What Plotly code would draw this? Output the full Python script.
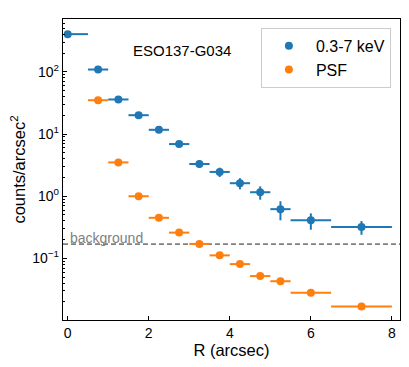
import math

import plotly.graph_objects as go

# radial bins (arcsec)
r_mid = [0.0, 0.75, 1.25, 1.75, 2.25, 2.75, 3.25, 3.75, 4.25, 4.75, 5.25, 6.0, 7.25]
r_err_plus = [0.5, 0.25, 0.25, 0.25, 0.25, 0.25, 0.25, 0.25, 0.25, 0.25, 0.25, 0.5, 0.75]
r_err_minus = [0.0, 0.25, 0.25, 0.25, 0.25, 0.25, 0.25, 0.25, 0.25, 0.25, 0.25, 0.5, 0.75]

# 0.3-7 keV surface brightness
src_counts = [404, 109, 36, 20.1, 11.7, 6.9, 3.3, 2.46, 1.62, 1.16, 0.62, 0.41, 0.32]
src_err = [12, 5, 2.2, 1.4, 0.9, 0.6, 0.45, 0.42, 0.33, 0.28, 0.21, 0.12, 0.08]

# PSF profile
psf_r = r_mid[1:]
psf_err_plus = r_err_plus[1:]
psf_err_minus = r_err_minus[1:]
psf_counts = [35, 3.5, 1.0, 0.45, 0.26, 0.171, 0.112, 0.081, 0.052, 0.043, 0.028, 0.0168]

background = 0.17

y_tick_vals = [0.1, 1, 10, 100]
y_tick_text = ['10<sup>\u22121</sup>', '10<sup>0</sup>', '10<sup>1</sup>', '10<sup>2</sup>']
y_minor_vals = [m * 10 ** e for e in (-2, -1, 0, 1, 2) for m in range(2, 10)]

BLUE = '#1f77b4'
ORANGE = '#ff7f0e'
FONT = 'Liberation Sans, Arial, sans-serif'


def profile_trace(x, y, xp, xm, color, name, yerr=None):
    err_y = dict(type='data', array=yerr, color=color, thickness=2, width=0) if yerr else None
    return go.Scatter(
        x=x, y=y, name=name, mode='markers',
        marker=dict(color=color, size=8),
        error_x=dict(type='data', symmetric=False, array=xp, arrayminus=xm,
                     color=color, thickness=2, width=0),
        error_y=err_y,
    )


fig = go.Figure()
fig.add_trace(profile_trace(r_mid, src_counts, r_err_plus, r_err_minus, BLUE, '0.3-7 keV', src_err))
fig.add_trace(profile_trace(psf_r, psf_counts, psf_err_plus, psf_err_minus, ORANGE, 'PSF'))

fig.add_shape(type='line', xref='paper', x0=0, x1=1, yref='y', y0=background, y1=background,
              line=dict(color='gray', width=1.8, dash='5px,3px'), layer='below')
# annotations on a log axis take log10 positions
fig.add_annotation(x=0, y=math.log10(background), xref='x', yref='y', text='background',
                   showarrow=False, xanchor='left', yanchor='bottom', yshift=-4,
                   font=dict(family=FONT, size=14, color='gray'))
fig.add_annotation(x=0.353, y=0.93, xref='paper', yref='paper', text='ESO137-G034', showarrow=False,
                   font=dict(family=FONT, size=15, color='black'))

# page body has an 8px margin, so the figure is sized to fit the window
fig.update_layout(
    width=401, height=359,
    margin=dict(l=55, r=9, t=11, b=47, autoexpand=False),
    plot_bgcolor='white', paper_bgcolor='white',
    font=dict(family=FONT, size=13, color='black'),
    showlegend=True,
    legend=dict(x=0.973, y=0.971, xanchor='right', yanchor='top', itemwidth=44,
                bordercolor='#cccccc', borderwidth=1, bgcolor='rgba(255,255,255,0.8)',
                font=dict(family=FONT, size=16)),
)
fig.update_xaxes(
    range=[-0.116, 8.2], dtick=2, tick0=0, automargin=False,
    showgrid=False, zeroline=False,
    showline=True, linecolor='black', linewidth=1.3, mirror=True,
    ticks='inside', ticklen=4, tickcolor='black', tickfont=dict(size=14),
    title=dict(text='R (arcsec)', font=dict(size=16.5), standoff=4),
)
fig.update_yaxes(
    type='log', range=[-1.99, 2.85], automargin=False,
    tickmode='array', tickvals=y_tick_vals, ticktext=y_tick_text,
    showgrid=False, zeroline=False,
    showline=True, linecolor='black', linewidth=1.3, mirror=True,
    ticks='inside', ticklen=4, tickcolor='black', tickfont=dict(size=14),
    minor=dict(tickmode='array', tickvals=y_minor_vals, ticks='inside', ticklen=2,
               tickcolor='black', showgrid=False),
    title=dict(text='counts/arcsec<sup>2</sup>', font=dict(size=16.5), standoff=2),
)

fig.write_html('out.html')
